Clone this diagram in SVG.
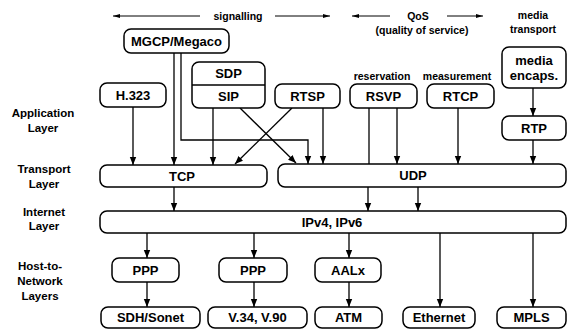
<svg xmlns="http://www.w3.org/2000/svg" width="567" height="330" viewBox="0 0 567 330">
<defs>
<marker id="ah" markerWidth="8" markerHeight="8" refX="8" refY="4" orient="auto" markerUnits="userSpaceOnUse">
<path d="M0,0.8 L8,4 L0,7.2 Z" fill="#000"/>
</marker>
<marker id="sh" markerWidth="7" markerHeight="5" refX="7" refY="2.5" orient="auto" markerUnits="userSpaceOnUse">
<path d="M0,0.5 L7,2.5 L0,4.5 Z" fill="#000"/>
</marker>
<style>
.b{fill:#fff;stroke:#000;stroke-width:1.5}
.t{font-family:"Liberation Sans",Arial,sans-serif;font-weight:bold;font-size:13px;text-anchor:middle;fill:#000}
.l{font-family:"Liberation Sans",Arial,sans-serif;font-weight:bold;font-size:11.5px;text-anchor:middle;fill:#000}
.h{font-family:"Liberation Sans",Arial,sans-serif;font-weight:bold;font-size:10.5px;text-anchor:middle;fill:#000}
.c{fill:none;stroke:#000;stroke-width:1.3}
.a{marker-end:url(#ah)}
.s{fill:none;stroke:#000;stroke-width:1;marker-end:url(#sh)}
</style>
</defs>
<rect width="567" height="330" fill="#fff"/>
<g id="headers">
<line class="s" x1="200" y1="16" x2="113" y2="16"/>
<text class="h" x="238" y="20">signalling</text>
<line class="s" x1="275" y1="16" x2="330" y2="16"/>
<line class="s" x1="390" y1="16" x2="352" y2="16"/>
<text class="h" x="418" y="20">QoS</text>
<text class="h" x="422" y="34">(quality of service)</text>
<line class="s" x1="447" y1="16" x2="483" y2="16"/>
<text class="h" x="533" y="19">media</text>
<text class="h" x="533" y="33">transport</text>
<text class="h" x="382" y="80">reservation</text>
<text class="h" x="457" y="80">measurement</text>
</g>
<g id="layer-labels">
<text class="l" x="43" y="117">Application</text>
<text class="l" x="43" y="132">Layer</text>
<text class="l" x="44" y="173">Transport</text>
<text class="l" x="44" y="188">Layer</text>
<text class="l" x="44" y="216">Internet</text>
<text class="l" x="44" y="230">Layer</text>
<text class="l" x="40" y="270">Host-to-</text>
<text class="l" x="40" y="285">Network</text>
<text class="l" x="40" y="300">Layers</text>
</g>
<g id="connectors">
<line class="c a" x1="133" y1="107" x2="133" y2="165"/>
<line class="c a" x1="174" y1="53" x2="174" y2="165"/>
<polyline class="c a" points="181,53 181,140 308,140 308,164"/>
<line class="c a" x1="213" y1="108" x2="213" y2="165"/>
<line class="c a" x1="240" y1="108" x2="296" y2="163"/>
<line class="c a" x1="292" y1="108" x2="235" y2="164"/>
<line class="c a" x1="323" y1="108" x2="323" y2="164"/>
<line class="c" x1="369" y1="108" x2="369" y2="164"/>
<line class="c a" x1="397" y1="108" x2="397" y2="164"/>
<line class="c a" x1="458" y1="108" x2="458" y2="164"/>
<line class="c a" x1="533" y1="88" x2="533" y2="116"/>
<line class="c a" x1="533" y1="140" x2="533" y2="164"/>
<line class="c a" x1="174" y1="187" x2="174" y2="211"/>
<line class="c a" x1="368" y1="187" x2="368" y2="211"/>
<line class="c a" x1="418" y1="187" x2="418" y2="211"/>
<line class="c a" x1="147" y1="233" x2="147" y2="258"/>
<line class="c a" x1="254" y1="233" x2="254" y2="258"/>
<line class="c a" x1="349" y1="233" x2="349" y2="258"/>
<line class="c a" x1="440" y1="233" x2="440" y2="307"/>
<line class="c a" x1="533" y1="233" x2="533" y2="307"/>
<line class="c a" x1="147" y1="282" x2="147" y2="307"/>
<line class="c a" x1="254" y1="282" x2="254" y2="307"/>
<line class="c a" x1="349" y1="282" x2="349" y2="307"/>
</g>
<g id="mgcp"><rect class="b" x="124" y="29" width="105" height="24" rx="7"/><text class="t" x="176.5" y="46">MGCP/Megaco</text></g>
<g id="h323"><rect class="b" x="100" y="83" width="66" height="24" rx="7"/><text class="t" x="133" y="100">H.323</text></g>
<g id="sdp-sip"><rect class="b" x="192" y="62" width="73" height="46" rx="7"/><line x1="192" y1="85" x2="265" y2="85" stroke="#000" stroke-width="1.5"/><text class="t" x="228.5" y="78">SDP</text><text class="t" x="228.5" y="101">SIP</text></g>
<g id="rtsp"><rect class="b" x="275" y="84" width="65" height="24" rx="7"/><text class="t" x="307.5" y="101">RTSP</text></g>
<g id="rsvp"><rect class="b" x="350" y="84" width="67" height="24" rx="7"/><text class="t" x="383.5" y="101">RSVP</text></g>
<g id="rtcp"><rect class="b" x="427" y="84" width="67" height="24" rx="7"/><text class="t" x="460.5" y="101">RTCP</text></g>
<g id="media-encaps"><rect class="b" x="502" y="47" width="64" height="41" rx="7"/><text class="t" x="534" y="65">media</text><text class="t" x="534" y="80">encaps.</text></g>
<g id="rtp"><rect class="b" x="502" y="116" width="64" height="24" rx="7"/><text class="t" x="534" y="133">RTP</text></g>
<g id="tcp"><rect class="b" x="100" y="165" width="167" height="22" rx="7"/><text class="t" x="182" y="181">TCP</text></g>
<g id="udp"><rect class="b" x="278" y="164" width="288" height="23" rx="7"/><text class="t" x="413" y="180">UDP</text></g>
<g id="ip"><rect class="b" x="100" y="211" width="466" height="22" rx="7"/><text class="t" x="332" y="227">IPv4, IPv6</text></g>
<g id="ppp1"><rect class="b" x="112" y="258" width="67" height="24" rx="7"/><text class="t" x="145.5" y="275">PPP</text></g>
<g id="ppp2"><rect class="b" x="219" y="258" width="68" height="24" rx="7"/><text class="t" x="253" y="275">PPP</text></g>
<g id="aalx"><rect class="b" x="315" y="258" width="66" height="24" rx="7"/><text class="t" x="348" y="275">AALx</text></g>
<g id="sdh"><rect class="b" x="101" y="307" width="99" height="21" rx="7"/><text class="t" x="150.5" y="322">SDH/Sonet</text></g>
<g id="v34"><rect class="b" x="208" y="307" width="99" height="21" rx="7"/><text class="t" x="257.5" y="322">V.34, V.90</text></g>
<g id="atm"><rect class="b" x="315" y="307" width="67" height="21" rx="7"/><text class="t" x="348.5" y="322">ATM</text></g>
<g id="ethernet"><rect class="b" x="403" y="307" width="72" height="21" rx="7"/><text class="t" x="439" y="322">Ethernet</text></g>
<g id="mpls"><rect class="b" x="497" y="307" width="69" height="21" rx="7"/><text class="t" x="531.5" y="322">MPLS</text></g>
</svg>
